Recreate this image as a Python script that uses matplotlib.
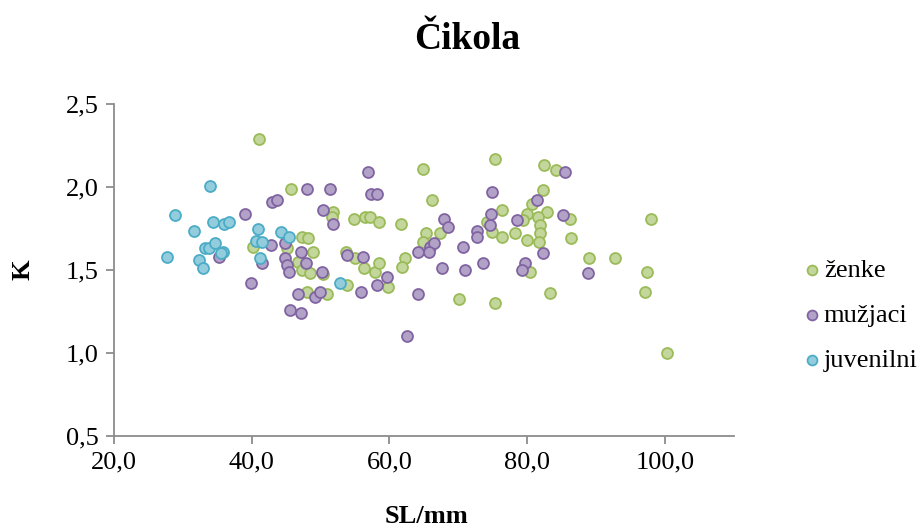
import numpy as np
import matplotlib.pyplot as plt
from matplotlib.ticker import FuncFormatter

# ženke (SL/mm, K)
zenke_sl = [41.1, 40.2, 45.7, 47.3, 48.2, 48.9, 45.1, 46.7, 47.3, 48.5, 50.4, 48.0, 50.9,
            51.8, 51.7, 54.9, 56.5, 57.2, 58.5, 53.7, 55.0, 56.3, 57.9, 58.5, 53.8, 64.9,
            66.2, 61.7, 65.3, 67.3, 64.9, 62.3, 61.8, 59.8, 70.1, 75.3, 82.5, 84.1, 82.3,
            80.7, 80.0, 76.4, 82.9, 79.4, 81.6, 81.9, 81.9, 81.7, 74.2, 74.9, 76.4, 78.2,
            80.0, 86.2, 86.4, 80.4, 83.3, 75.3, 89.0, 98.0, 92.8, 97.4, 97.1, 100.3]
zenke_k = [2.29, 1.64, 1.99, 1.70, 1.69, 1.61, 1.63, 1.55, 1.50, 1.48, 1.475, 1.37, 1.355,
           1.85, 1.82, 1.81, 1.82, 1.82, 1.79, 1.61, 1.57, 1.51, 1.49, 1.54, 1.41, 2.11,
           1.92, 1.78, 1.72, 1.72, 1.67, 1.57, 1.52, 1.40, 1.325, 2.17, 2.13, 2.10, 1.98,
           1.90, 1.84, 1.86, 1.85, 1.80, 1.82, 1.77, 1.72, 1.67, 1.79, 1.73, 1.70, 1.72,
           1.68, 1.81, 1.69, 1.49, 1.36, 1.30, 1.57, 1.81, 1.57, 1.49, 1.37, 1.00]

# mužjaci
muzjaci_sl = [39.0, 39.9, 42.9, 43.7, 48.0, 51.4, 50.4, 51.8, 56.9, 57.3, 58.2, 42.8, 44.8,
              44.8, 45.1, 45.4, 47.2, 47.9, 50.2, 46.7, 49.2, 49.9, 53.8, 56.2, 58.2, 55.9,
              45.6, 47.2, 41.5, 35.3, 67.9, 68.5, 64.2, 65.9, 66.5, 65.8, 59.7, 67.6, 71.0,
              70.7, 72.7, 72.7, 73.6, 64.2, 74.9, 85.5, 81.4, 74.8, 78.5, 85.2, 74.6, 82.3,
              79.7, 79.3, 88.8, 62.6]
muzjaci_k = [1.84, 1.42, 1.91, 1.92, 1.99, 1.99, 1.86, 1.78, 2.09, 1.96, 1.96, 1.65, 1.66,
             1.57, 1.53, 1.49, 1.61, 1.54, 1.49, 1.355, 1.34, 1.37, 1.59, 1.58, 1.41, 1.37,
             1.26, 1.24, 1.54, 1.58, 1.81, 1.76, 1.61, 1.64, 1.66, 1.61, 1.46, 1.51, 1.50,
             1.64, 1.735, 1.70, 1.54, 1.355, 1.97, 2.09, 1.92, 1.84, 1.80, 1.83, 1.77, 1.60,
             1.54, 1.50, 1.48, 1.10]

# juvenilni
juv_sl = [27.7, 28.9, 31.6, 32.3, 32.9, 33.9, 34.4, 36.0, 36.7, 33.2, 33.8, 34.7, 35.8,
          35.5, 40.9, 40.6, 41.5, 41.2, 44.3, 45.4, 52.8]
juv_k = [1.58, 1.83, 1.735, 1.56, 1.51, 2.006, 1.79, 1.78, 1.79, 1.63, 1.63, 1.66, 1.61,
         1.60, 1.75, 1.675, 1.67, 1.57, 1.73, 1.70, 1.42]

x_ticks = [20, 40, 60, 80, 100]
y_ticks = [0.5, 1.0, 1.5, 2.0, 2.5]


def comma(v, pos):
    return ('%.1f' % v).replace('.', ',')


def main():
    plt.rcParams['font.family'] = ['Liberation Serif', 'DejaVu Serif']
    fig = plt.figure(figsize=(9.22, 5.28), dpi=100)
    ax = fig.add_axes([0.1236, 0.1742, 0.6724, 0.6288])

    series = [
        (zenke_sl, zenke_k, '#c3d69b', '#9bbb59', 'ženke'),
        (muzjaci_sl, muzjaci_k, '#b3a2c7', '#8064a2', 'mužjaci'),
        (juv_sl, juv_k, '#93cddd', '#4bacc6', 'juvenilni'),
    ]
    for x, y, fc, ec, lab in series:
        ax.scatter(x, y, s=62, facecolor=fc, edgecolor=ec, linewidth=1.3, label=lab, zorder=3)

    ax.set_xlim(20, 110)
    ax.set_ylim(0.5, 2.5)
    ax.set_xticks(x_ticks)
    ax.set_yticks(y_ticks)
    ax.xaxis.set_major_formatter(FuncFormatter(comma))
    ax.yaxis.set_major_formatter(FuncFormatter(comma))

    for s in ['top', 'right']:
        ax.spines[s].set_visible(False)
    for s in ['left', 'bottom']:
        ax.spines[s].set_color('#8c8c8c')
        ax.spines[s].set_linewidth(1.3)
    ax.tick_params(direction='out', length=6, width=1.3, color='#8c8c8c',
                   labelsize=19, labelcolor='black', pad=5)

    fig.text(0.507, 0.925, 'Čikola', ha='center', va='center', fontsize=27, fontweight='bold')
    fig.text(0.463, 0.022, 'SL/mm', ha='center', va='center', fontsize=19, fontweight='bold')
    fig.text(0.025, 0.49, 'K', ha='center', va='center', fontsize=19, fontweight='bold',
             rotation=90)

    ax.legend(loc='center left', bbox_to_anchor=(0.872, 0.403),
              bbox_transform=fig.transFigure, frameon=False, fontsize=19,
              markerscale=0.9, handletextpad=0.15, labelspacing=0.8,
              handlelength=0.6, borderaxespad=0, borderpad=0)

    fig.savefig('out.png', dpi=100)


if __name__ == '__main__':
    main()
